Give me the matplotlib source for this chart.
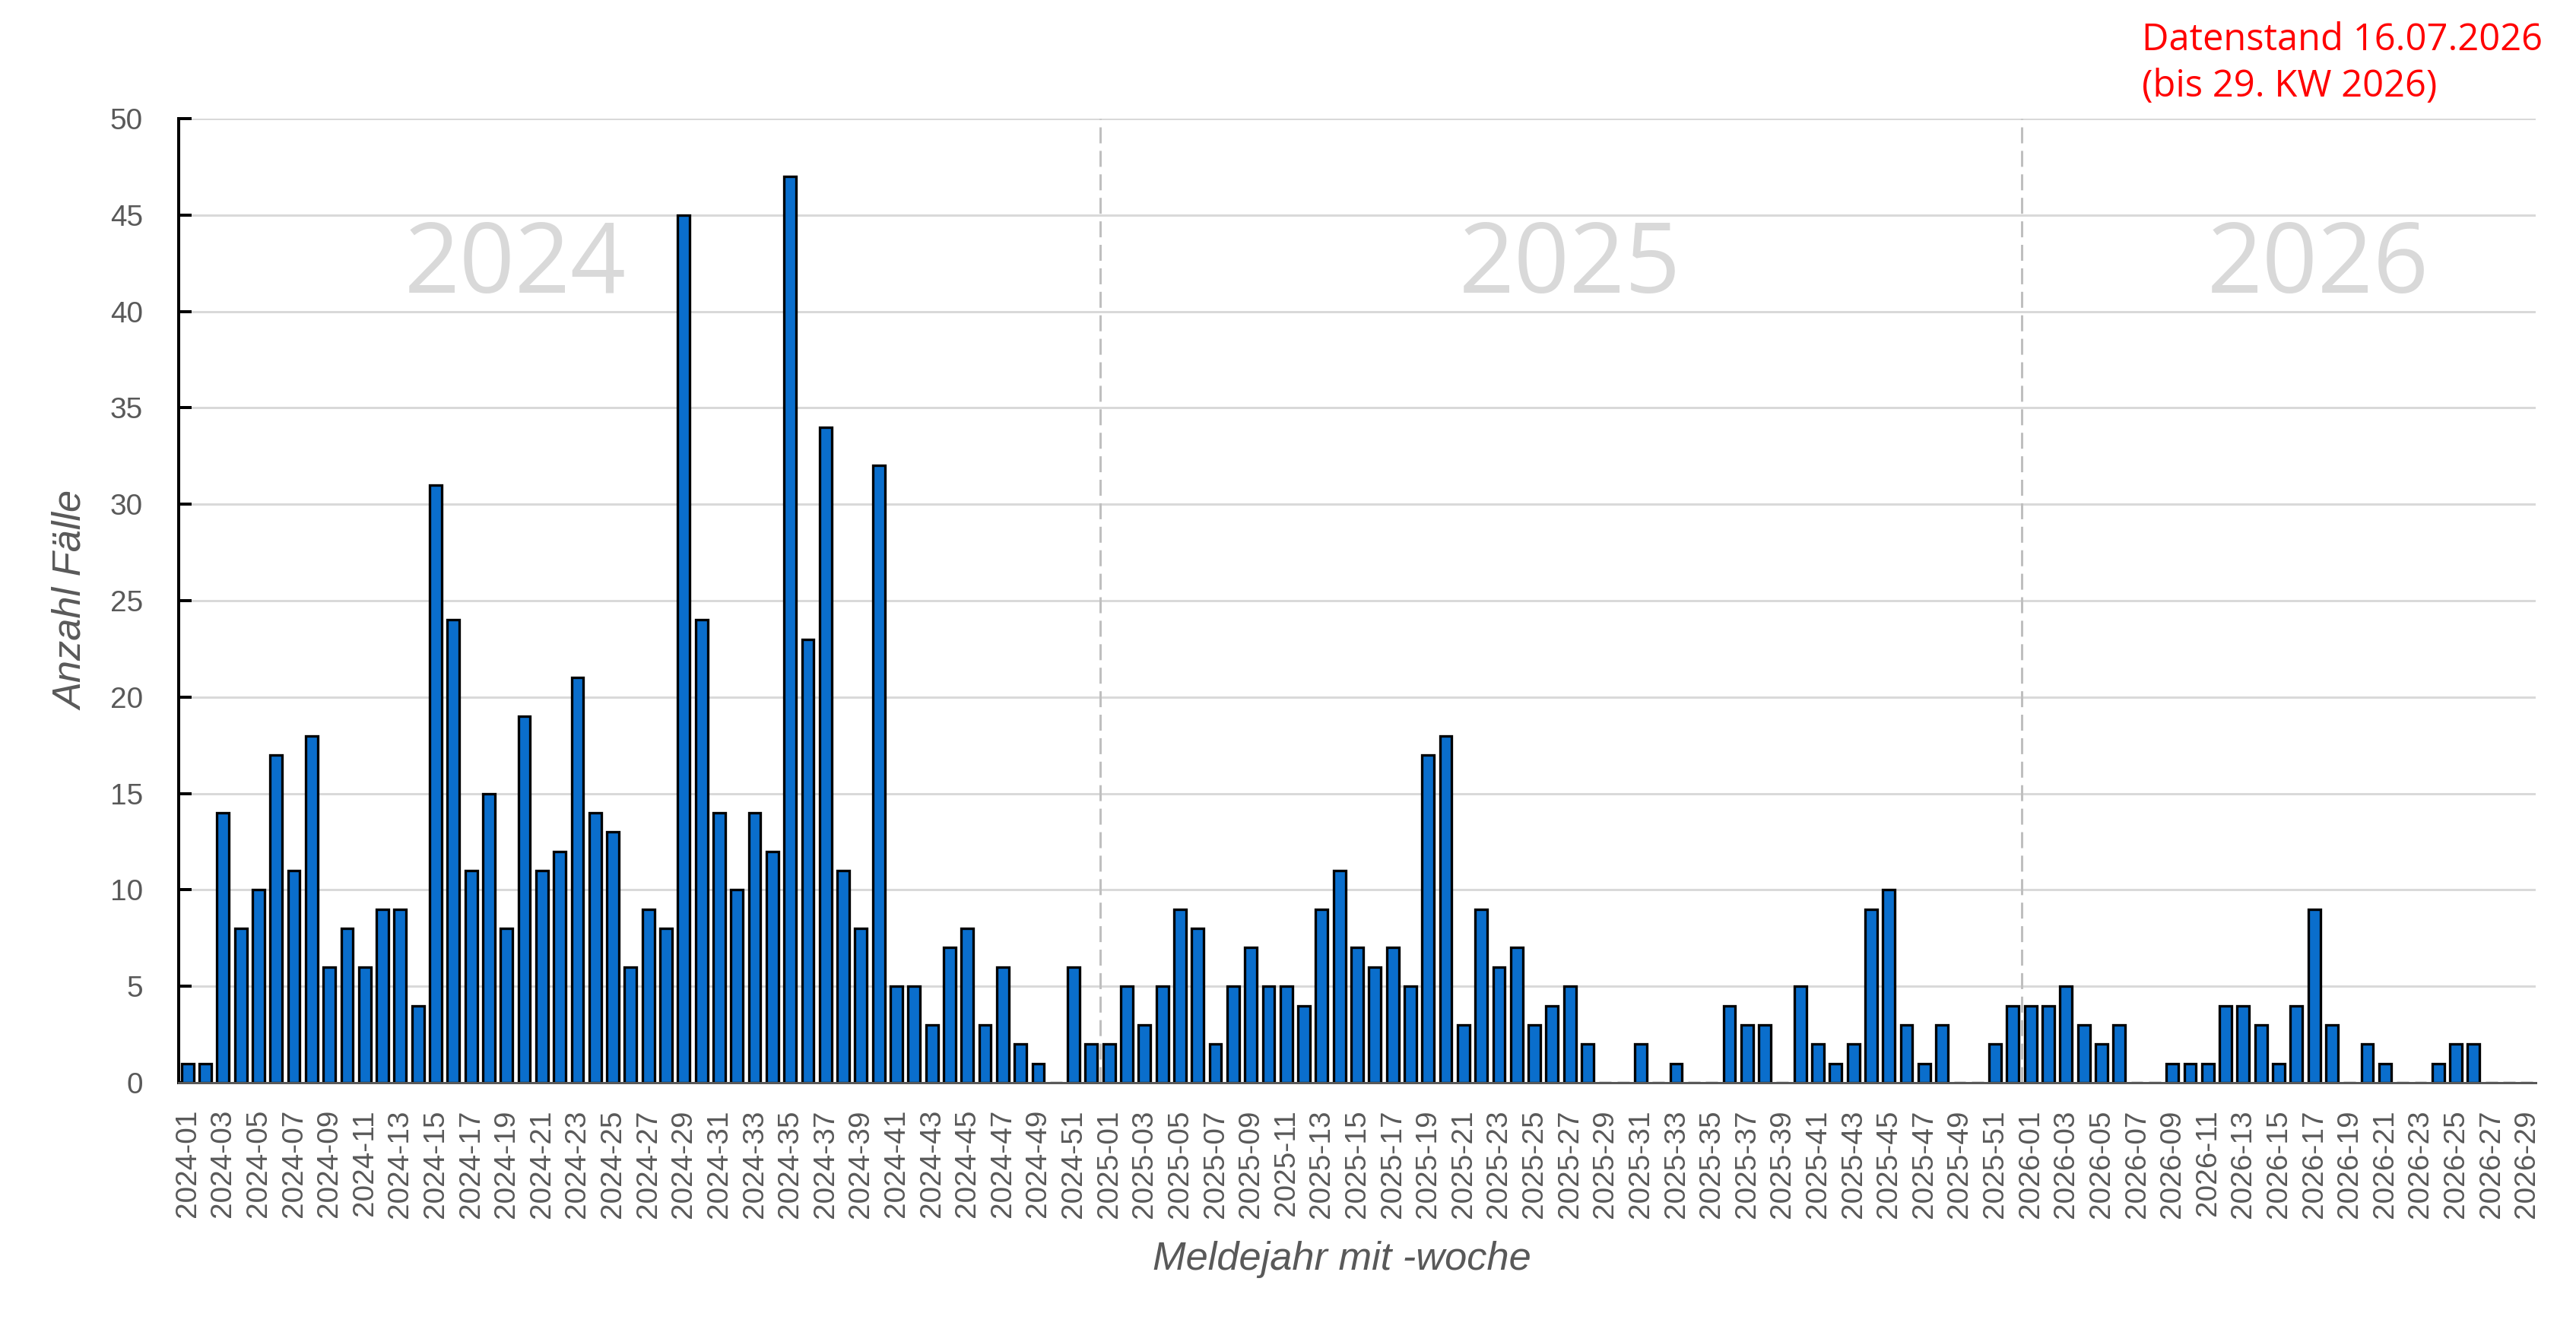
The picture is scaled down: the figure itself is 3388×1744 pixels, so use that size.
import matplotlib
matplotlib.use("Agg")
import matplotlib.pyplot as plt
from matplotlib import font_manager
from matplotlib.ticker import MultipleLocator

# ---------------- data ----------------
years = [2024, 2025, 2026]
cases_2024 = [1, 1, 14, 8, 10, 17, 11, 18, 6, 8,
              6, 9, 9, 4, 31, 24, 11, 15, 8, 19,
              11, 12, 21, 14, 13, 6, 9, 8, 45, 24,
              14, 10, 14, 12, 47, 23, 34, 11, 8, 32,
              5, 5, 3, 7, 8, 3, 6, 2, 1, 0,
              6, 2]
cases_2025 = [2, 5, 3, 5, 9, 8, 2, 5, 7, 5,
              5, 4, 9, 11, 7, 6, 7, 5, 17, 18,
              3, 9, 6, 7, 3, 4, 5, 2, 0, 0,
              2, 0, 1, 0, 0, 4, 3, 3, 0, 5,
              2, 1, 2, 9, 10, 3, 1, 3, 0, 0,
              2, 4]
cases_2026 = [4, 4, 5, 3, 2, 3, 0, 0, 1, 1,
              1, 4, 4, 3, 1, 4, 9, 3, 0, 2,
              1, 0, 0, 1, 2, 2, 0, 0, 0]
year_series = [cases_2024, cases_2025, cases_2026]

week_labels = [f"{y}-{w + 1:02d}" for y, s in zip(years, year_series) for w in range(len(s))]
cases = cases_2024 + cases_2025 + cases_2026

y_label = "Anzahl Fälle"
x_label = "Meldejahr mit -woche"
note_lines = ["Datenstand 16.07.2026", "(bis 29. KW 2026)"]

# ---------------- style ----------------
W, H, DPI = 3388, 1744, 200
PX = 72 / DPI  # points per pixel

# narrow font if available, otherwise scale regular font down to same width
try:
    font_manager.findfont(font_manager.FontProperties(family="Liberation Sans Narrow"),
                          fallback_to_default=False)
    narrow = ["Liberation Sans Narrow", "DejaVu Sans"]
    k = 1.0
except Exception:
    narrow = ["Liberation Sans", "DejaVu Sans"]
    k = 0.82

grey_txt = "#595959"
bar_color = "#0A6ECC"

fig = plt.figure(figsize=(W / DPI, H / DPI), dpi=DPI)
ax = fig.add_axes([235 / W, 1 - 1424 / H, (3335 - 235) / W, (1424 - 156) / H])

x = list(range(len(cases)))
ax.bar(x, cases, width=0.68, color=bar_color, edgecolor="black",
       linewidth=3.3 * PX, zorder=3)

ax.set_xlim(-0.5, len(cases) - 0.5)
ax.set_ylim(0, 50)
ax.yaxis.set_major_locator(MultipleLocator(5))
ax.grid(axis="y", color="#D9D9D9", linewidth=3 * PX, zorder=0)
ax.set_axisbelow(True)

# year separators
start = 0
for s in year_series[:-1]:
    start += len(s)
    ax.plot([start - 0.5, start - 0.5], [0, 50], color="#BFBFBF",
            linewidth=3 * PX, linestyle=(0, (7, 3.3)), zorder=2)

# year labels
year_label_pos = [18.5, 78.0, 120.2]
for yr, xp in zip(years, year_label_pos):
    ax.text(xp, 42.3, str(yr), ha="center", va="center", fontsize=46,
            color="#D9D9D9", family=["Open Sans", "DejaVu Sans"], zorder=1)

# ticks
ax.set_xticks(x[::2])
ax.set_xticklabels(week_labels[::2], rotation=90, family=narrow,
                   fontsize=17 * k, color=grey_txt)
ax.tick_params(axis="x", length=0, pad=12.6)
ax.tick_params(axis="y", direction="in", length=17 * PX, width=4 * PX,
               color="black", pad=17, labelsize=17 * k, labelcolor=grey_txt)
for lab in ax.get_yticklabels():
    lab.set_family(narrow)

for side in ["top", "right"]:
    ax.spines[side].set_visible(False)
ax.spines["left"].set_color("black")
ax.spines["left"].set_linewidth(4 * PX)
ax.spines["bottom"].set_color("#595959")
ax.spines["bottom"].set_linewidth(3 * PX)
ax.spines["bottom"].set_zorder(4)

# axis titles
fig.text(95 / W, 1 - 790 / H, y_label, rotation=90, ha="center", va="center",
         fontsize=23 * k, style="italic", color=grey_txt, family=narrow)
fig.text(1765 / W, 1 - 1656 / H, x_label, ha="center", va="center",
         fontsize=23 * k, style="italic", color=grey_txt, family=narrow)

# note
fig.text(2817 / W, 1 - 66 / H, note_lines[0], ha="left", va="baseline",
         fontsize=17.6, color="#FF0000", family=["Open Sans", "DejaVu Sans"])
fig.text(2817 / W, 1 - 127 / H, note_lines[1], ha="left", va="baseline",
         fontsize=17.6, color="#FF0000", family=["Open Sans", "DejaVu Sans"])

fig.savefig("out.png", dpi=DPI, facecolor="white")
